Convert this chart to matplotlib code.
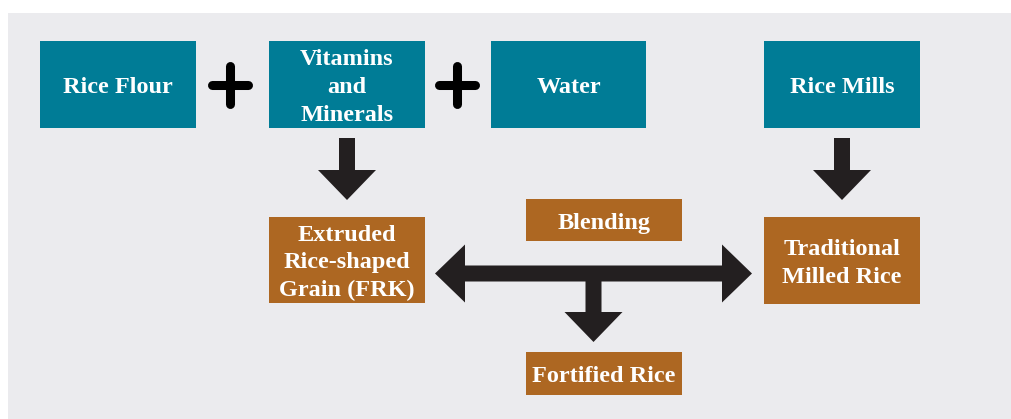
import matplotlib.pyplot as plt
from matplotlib.patches import Rectangle, FancyArrow

# box labels (top row teal, bottom row brown)
teal_labels = ['Rice Flour', 'Vitamins\nand\nMinerals', 'Water', 'Rice Mills']
brown_labels = ['Extruded\nRice-shaped\nGrain (FRK)', 'Blending',
                'Traditional\nMilled Rice', 'Fortified Rice']

# layout in pixels: (x0, y0, x1, y1), y measured from top
teal_boxes = [(40, 41, 196, 128), (269, 41, 425, 128),
              (491, 41, 646, 128), (764, 41, 920, 128)]
brown_boxes = [(269, 217, 425, 303), (526, 199, 682, 241),
               (764, 217, 920, 304), (526, 352, 682, 395)]
plus_x = [230, 457]

teal = '#007C96'
brown = '#AD6722'
ink = '#231F20'
bg = '#EBEBEE'

fig = plt.figure(figsize=(10.12, 4.19), dpi=100)
ax = fig.add_axes([0, 0, 1, 1])
ax.set_xlim(0, 1012)
ax.set_ylim(419, 0)
ax.axis('off')

ax.add_patch(Rectangle((8, 13), 1100, 500, color=bg, lw=0))

font = dict(family=['Liberation Serif', 'DejaVu Serif'], weight='bold',
            color='white', ha='center', va='center', fontsize=17.5,
            linespacing=1.42)


def draw_boxes(boxes, labels, col):
    for (x0, y0, x1, y1), lab in zip(boxes, labels):
        ax.add_patch(Rectangle((x0, y0), x1 - x0, y1 - y0, color=col, lw=0))
        ax.text((x0 + x1) / 2, (y0 + y1) / 2 + 3, lab, **font)


draw_boxes(teal_boxes, teal_labels, teal)
draw_boxes(brown_boxes, brown_labels, brown)

# plus signs
for px in plus_x:
    ax.plot([px - 18, px + 18], [85, 85], color='black', lw=6.5,
            solid_capstyle='round')
    ax.plot([px, px], [66, 104], color='black', lw=6.5,
            solid_capstyle='round')

arrow_kw = dict(width=16, head_width=58, head_length=30,
                length_includes_head=True, color=ink, lw=0)

# down arrows from Vitamins and Rice Mills
for cx in [347, 842]:
    ax.add_patch(FancyArrow(cx, 138, 0, 62, **arrow_kw))

# blending double arrow plus branch down
ax.add_patch(FancyArrow(594, 273.5, 435 - 594, 0, **arrow_kw))
ax.add_patch(FancyArrow(594, 273.5, 752 - 594, 0, **arrow_kw))
ax.add_patch(FancyArrow(593.5, 270, 0, 342 - 270, **arrow_kw))

fig.savefig('out.png', dpi=100, facecolor='white')
